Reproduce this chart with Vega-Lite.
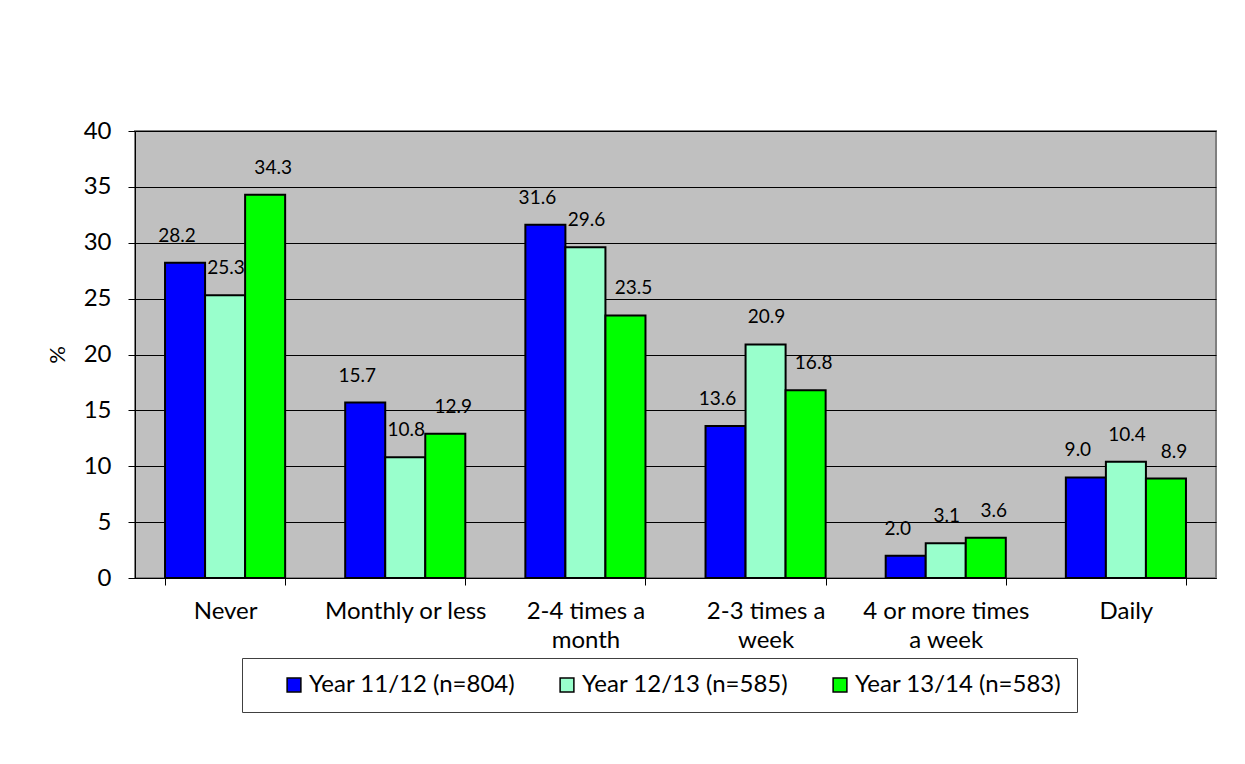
{
  "$schema": "https://vega.github.io/schema/vega-lite/v6.json",
  "width": 1081,
  "height": 447,
  "autosize": {"type": "none"},
  "padding": {"left": 135, "top": 131, "right": 29, "bottom": 186},
  "background": "white",
  "config": {
    "font": "Lato",
    "view": {"fill": "#C0C0C0", "stroke": "#808080", "strokeWidth": 2},
    "axis": {"labelFont": "Lato", "titleFont": "Lato", "labelColor": "black", "titleColor": "black"}
  },
  "data": {
    "values": [
      {"category": "Never", "series": "Year 11/12 (n=804)", "value": 28.2},
      {"category": "Never", "series": "Year 12/13 (n=585)", "value": 25.3},
      {"category": "Never", "series": "Year 13/14 (n=583)", "value": 34.3},
      {"category": "Monthly or less", "series": "Year 11/12 (n=804)", "value": 15.7},
      {"category": "Monthly or less", "series": "Year 12/13 (n=585)", "value": 10.8},
      {"category": "Monthly or less", "series": "Year 13/14 (n=583)", "value": 12.9},
      {"category": "2-4 times a month", "series": "Year 11/12 (n=804)", "value": 31.6},
      {"category": "2-4 times a month", "series": "Year 12/13 (n=585)", "value": 29.6},
      {"category": "2-4 times a month", "series": "Year 13/14 (n=583)", "value": 23.5},
      {"category": "2-3 times a week", "series": "Year 11/12 (n=804)", "value": 13.6},
      {"category": "2-3 times a week", "series": "Year 12/13 (n=585)", "value": 20.9},
      {"category": "2-3 times a week", "series": "Year 13/14 (n=583)", "value": 16.8},
      {"category": "4 or more times a week", "series": "Year 11/12 (n=804)", "value": 2.0},
      {"category": "4 or more times a week", "series": "Year 12/13 (n=585)", "value": 3.1},
      {"category": "4 or more times a week", "series": "Year 13/14 (n=583)", "value": 3.6},
      {"category": "Daily", "series": "Year 11/12 (n=804)", "value": 9.0},
      {"category": "Daily", "series": "Year 12/13 (n=585)", "value": 10.4},
      {"category": "Daily", "series": "Year 13/14 (n=583)", "value": 8.9}
    ]
  },
  "encoding": {
    "x": {
      "field": "category",
      "type": "nominal",
      "sort": ["Never", "Monthly or less", "2-4 times a month", "2-3 times a week", "4 or more times a week", "Daily"],
      "scale": {"paddingInner": 0.3333, "paddingOuter": 0.1667},
      "axis": {
        "title": null,
        "labelAngle": 0,
        "labelFontSize": 24,
        "labelLineHeight": 29,
        "labelPadding": 14,
        "labelBaseline": "top",
        "tickBand": "extent",
        "tickSize": 7,
        "tickColor": "black",
        "domainColor": "black",
        "domainWidth": 1,
        "labelExpr": "datum.value == '2-4 times a month' ? ['2-4 times a', 'month'] : datum.value == '2-3 times a week' ? ['2-3 times a', 'week'] : datum.value == '4 or more times a week' ? ['4 or more times', 'a week'] : datum.label"
      }
    },
    "xOffset": {
      "field": "series",
      "type": "nominal",
      "sort": ["Year 11/12 (n=804)", "Year 12/13 (n=585)", "Year 13/14 (n=583)"],
      "scale": {"paddingInner": 0, "paddingOuter": 0}
    },
    "y": {
      "field": "value",
      "type": "quantitative",
      "scale": {"domain": [0, 40], "nice": false},
      "axis": {
        "title": "%",
        "titleFontSize": 22,
        "titleFontWeight": "normal",
        "titlePadding": 14,
        "values": [0, 5, 10, 15, 20, 25, 30, 35, 40],
        "labelFontSize": 24,
        "labelPadding": 17,
        "tickSize": 7,
        "tickColor": "black",
        "domainColor": "black",
        "grid": true,
        "gridColor": "black",
        "gridWidth": 1
      }
    }
  },
  "layer": [
    {
      "mark": {"type": "bar", "stroke": "black", "strokeWidth": 2},
      "encoding": {
        "color": {
          "field": "series",
          "type": "nominal",
          "sort": ["Year 11/12 (n=804)", "Year 12/13 (n=585)", "Year 13/14 (n=583)"],
          "scale": {"domain": ["Year 11/12 (n=804)", "Year 12/13 (n=585)", "Year 13/14 (n=583)"], "range": ["#0000FF", "#99FFCC", "#00FF00"]},
          "legend": {
            "title": null,
            "orient": "none",
            "direction": "horizontal",
            "legendX": 107,
            "legendY": 527,
            "padding": 15,
            "symbolOffset": 25,
            "columnPadding": 14,
            "labelOffset": 3,
            "labelFontSize": 24,
            "labelFont": "Lato",
            "labelColor": "black",
            "labelLimit": 400,
            "symbolType": "square",
            "symbolSize": 190,
            "symbolStrokeColor": "black",
            "symbolStrokeWidth": 1.5,
            "strokeColor": "#404040",
            "fillColor": "white"
          }
        }
      }
    },
    {
      "transform": [{"filter": "datum.series == 'Year 11/12 (n=804)'"}],
      "mark": {"type": "text", "fontSize": 19, "font": "Lato", "color": "black", "baseline": "middle", "dy": -27, "dx": -8},
      "encoding": {"text": {"field": "value", "type": "quantitative", "format": ".1f"}}
    },
    {
      "transform": [{"filter": "datum.series == 'Year 12/13 (n=585)'"}],
      "mark": {"type": "text", "fontSize": 19, "font": "Lato", "color": "black", "baseline": "middle", "dy": -27, "dx": 1},
      "encoding": {"text": {"field": "value", "type": "quantitative", "format": ".1f"}}
    },
    {
      "transform": [{"filter": "datum.series == 'Year 13/14 (n=583)'"}],
      "mark": {"type": "text", "fontSize": 19, "font": "Lato", "color": "black", "baseline": "middle", "dy": -27, "dx": 8},
      "encoding": {"text": {"field": "value", "type": "quantitative", "format": ".1f"}}
    }
  ]
}
